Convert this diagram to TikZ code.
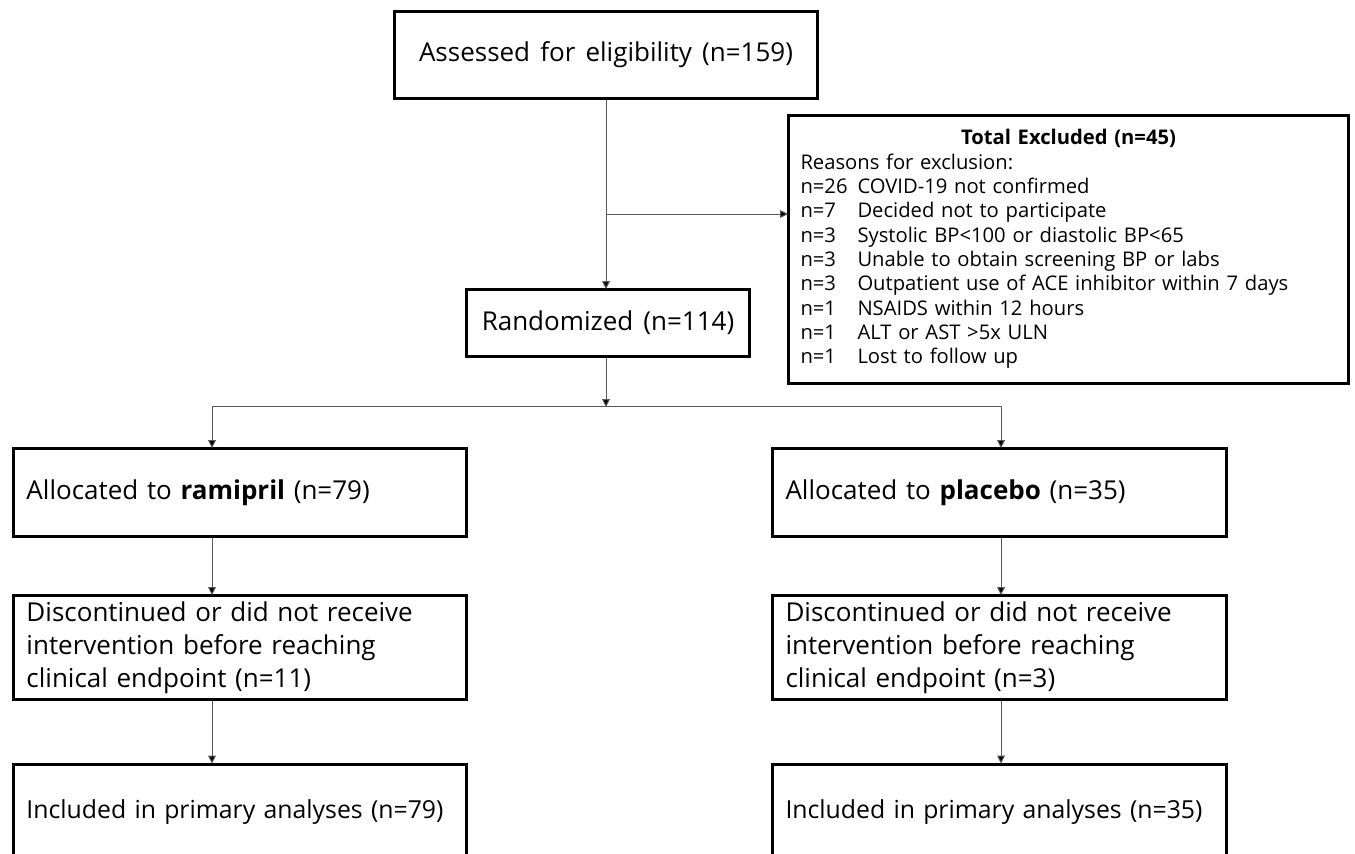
\documentclass[tikz,border=0pt]{standalone}
\usepackage{fontspec}
\setmainfont{Open Sans}[WordSpace=1.5]
\usetikzlibrary{arrows.meta}
\begin{document}
\begin{tikzpicture}[x=1pt,y=-1pt,
  box/.style={draw=black, line width=3pt, rectangle, inner sep=0pt, font=\fontsize{26}{33}\selectfont},
  lbox/.style={box, align=left, text width=#1},
  conn/.style={line width=1pt, draw=black!65},
  arr/.style={conn, -{Triangle[length=8pt,width=8pt,fill=black]}, shorten >=-1pt}]
\useasboundingbox (0,0) rectangle (1355,854);
\clip (0,0) rectangle (1355,854);
\fill[white] (0,0) rectangle (1355,854);

\node[box, minimum width=423pt, minimum height=87pt] (assess) at (606,55) {Assessed for eligibility (n=159)};
\node[box, minimum width=283pt, minimum height=67pt] (rand) at (608,323) {Randomized (n=114)};

\node[box, minimum width=560pt, minimum height=268pt, align=left, text width=536pt,
      font=\fontsize{20.2}{24.3}\selectfont] (excl) at (1068.5,249)
{\makebox[536pt][c]{\bfseries Total Excluded (n=45)}\\
Reasons for exclusion:\\
\makebox[57pt][l]{n=26}COVID-19 not confirmed\\
\makebox[57pt][l]{n=7}Decided not to participate\\
\makebox[57pt][l]{n=3}Systolic BP<100 or diastolic BP<65\\
\makebox[57pt][l]{n=3}Unable to obtain screening BP or labs\\
\makebox[57pt][l]{n=3}Outpatient use of ACE inhibitor within 7 days\\
\makebox[57pt][l]{n=1}NSAIDS within 12 hours\\
\makebox[57pt][l]{n=1}ALT or AST >5x ULN\\
\makebox[57pt][l]{n=1}Lost to follow up};

\node[lbox=427pt, minimum width=453pt, minimum height=88pt] (ram) at (240,492.5) {Allocated to \textbf{ramipril} (n=79)};
\node[lbox=428pt, minimum width=454pt, minimum height=88pt] (plac) at (999.5,492.5) {Allocated to \textbf{placebo} (n=35)};

\node[lbox=427pt, minimum width=453pt, minimum height=104pt] (discL) at (240,647.5) {Discontinued or did not receive\\ intervention before reaching\\ clinical endpoint (n=11)};
\node[lbox=428pt, minimum width=454pt, minimum height=104pt] (discR) at (999.5,647.5) {Discontinued or did not receive\\ intervention before reaching\\ clinical endpoint (n=3)};

\node[lbox=427pt, minimum width=453pt, minimum height=96pt, font=\fontsize{24.8}{33}\selectfont] (inclL) at (240,812) {Included in primary analyses (n=79)};
\node[lbox=428pt, minimum width=454pt, minimum height=96pt, font=\fontsize{24.8}{33}\selectfont] (inclR) at (999.5,812) {Included in primary analyses (n=35)};

\coordinate (exy) at (606,214);
\coordinate (split) at (606,406);
\coordinate (hl) at (212,406);
\coordinate (hr) at (1001,406);

\draw[arr] (assess.south) -- (assess.south |- rand.north);
\draw[arr] (exy) -- (exy -| excl.west);
\draw[arr] (rand.south -| split) -- (split);
\draw[conn] (hl) -- (hr);
\draw[arr] (hl) -- (hl |- ram.north);
\draw[arr] (hr) -- (hr |- plac.north);
\draw[arr] (hl |- ram.south) -- (hl |- discL.north);
\draw[arr] (hr |- plac.south) -- (hr |- discR.north);
\draw[arr] (hl |- discL.south) -- (hl |- inclL.north);
\draw[arr] (hr |- discR.south) -- (hr |- inclR.north);
\end{tikzpicture}
\end{document}
